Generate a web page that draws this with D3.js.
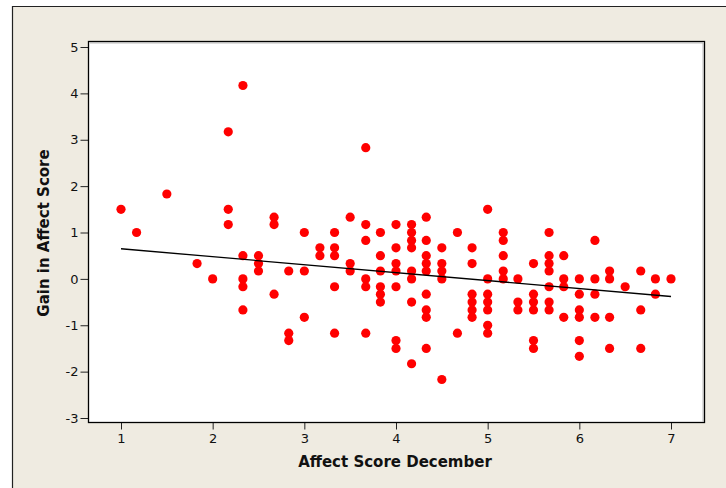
<!DOCTYPE html>
<html>
<head>
<meta charset="utf-8">
<script src="https://cdn.jsdelivr.net/npm/d3@7"></script>
<style>
  body { margin: 0; background: #fff; }
  svg { display: block; }
</style>
</head>
<body>
<svg id="chart" width="726" height="488"></svg>
<script>
var affectDecember = [
  1.0, 1.17, 1.5, 1.83, 2.0,
  2.17, 2.17, 2.17,
  2.33, 2.33, 2.33, 2.33, 2.33,
  2.5, 2.5, 2.5,
  2.67, 2.67, 2.67,
  2.83, 2.83, 2.83,
  3.0, 3.0, 3.0,
  3.17, 3.17,
  3.33, 3.33, 3.33, 3.33, 3.33,
  3.5, 3.5, 3.5,
  3.67, 3.67, 3.67, 3.67, 3.67, 3.67,
  3.83, 3.83, 3.83, 3.83, 3.83, 3.83,
  4.0, 4.0, 4.0, 4.0, 4.0, 4.0, 4.0,
  4.17, 4.17, 4.17, 4.17, 4.17, 4.17, 4.17, 4.17,
  4.33, 4.33, 4.33, 4.33, 4.33, 4.33, 4.33, 4.33, 4.33,
  4.5, 4.5, 4.5, 4.5, 4.5,
  4.67, 4.67,
  4.83, 4.83, 4.83, 4.83, 4.83, 4.83,
  5.0, 5.0, 5.0, 5.0, 5.0, 5.0, 5.0,
  5.17, 5.17, 5.17, 5.17, 5.17,
  5.33, 5.33, 5.33,
  5.5, 5.5, 5.5, 5.5, 5.5, 5.5,
  5.67, 5.67, 5.67, 5.67, 5.67, 5.67, 5.67,
  5.83, 5.83, 5.83, 5.83,
  6.0, 6.0, 6.0, 6.0, 6.0, 6.0,
  6.17, 6.17, 6.17, 6.17,
  6.33, 6.33, 6.33, 6.33,
  6.5,
  6.67, 6.67, 6.67,
  6.83, 6.83,
  7.0
];
var gainInAffect = [
  1.5, 1.0, 1.83, 0.33, 0,
  3.17, 1.5, 1.17,
  4.17, 0.5, 0, -0.17, -0.67,
  0.5, 0.33, 0.17,
  1.33, 1.17, -0.33,
  0.17, -1.17, -1.33,
  1.0, 0.17, -0.83,
  0.67, 0.5,
  1.0, 0.67, 0.5, -0.17, -1.17,
  1.33, 0.33, 0.17,
  2.83, 1.17, 0.83, 0, -0.17, -1.17,
  1.0, 0.5, 0.17, -0.17, -0.33, -0.5,
  1.17, 0.67, 0.33, 0.17, -0.17, -1.33, -1.5,
  1.17, 1.0, 0.83, 0.67, 0.17, 0, -0.5, -1.83,
  1.33, 0.83, 0.5, 0.33, 0.17, -0.33, -0.67, -0.83, -1.5,
  0.67, 0.33, 0.17, 0, -2.17,
  1.0, -1.17,
  0.67, 0.33, -0.33, -0.5, -0.67, -0.83,
  1.5, 0, -0.33, -0.5, -0.67, -1.0, -1.17,
  1.0, 0.83, 0.5, 0.17, 0,
  0, -0.5, -0.67,
  0.33, -0.33, -0.5, -0.67, -1.33, -1.5,
  1.0, 0.5, 0.33, 0.17, -0.17, -0.5, -0.67,
  0.5, 0, -0.17, -0.83,
  0, -0.33, -0.67, -0.83, -1.33, -1.67,
  0.83, 0, -0.33, -0.83,
  0.17, 0, -0.83, -1.5,
  -0.17,
  0.17, -0.67, -1.5,
  0, -0.33,
  0
];
// Fitted line as drawn in the picture (overlapping points hide some cases).
var fitX = [1, 7];
var fitY = [0.65, -0.38];
var xTicks = [1, 2, 3, 4, 5, 6, 7];
var yTicks = [-3, -2, -1, 0, 1, 2, 3, 4, 5];
var xTitle = 'Affect Score December';
var yTitle = 'Gain in Affect Score';

// Layout.
var BOX = {left: 88.5, top: 41.5, right: 704.5, bottom: 422.5};
var POINT_R = 4.6;
var FONT = 'Tahoma, "DejaVu Sans", sans-serif';

var svg = d3.select('#chart');

// Beige frame behind everything.
svg.append('rect')
  .attr('x', 12).attr('y', 6).attr('width', 726).attr('height', 500)
  .attr('fill', '#efebe1');
svg.append('path')
  .attr('d', 'M12.5,488V6.5H726')
  .attr('fill', 'none').attr('stroke', '#222').attr('stroke-width', 1.2);

var x = d3.scaleLinear().domain([1, 7]).range([121, 671]);
var y = d3.scaleLinear().domain([-3, 5]).range([418, 47]);

// Plot area.
svg.append('rect')
  .attr('x', BOX.left).attr('y', BOX.top)
  .attr('width', BOX.right - BOX.left).attr('height', BOX.bottom - BOX.top)
  .attr('fill', '#fff');
svg.append('path')
  .attr('d', 'M' + (BOX.left + 1.5) + ',' + (BOX.top + 1.5) + 'H' + (BOX.right - 1.5) + 'V' + (BOX.bottom - 1))
  .attr('fill', 'none').attr('stroke', '#bbb').attr('stroke-width', 1);

// Axes (plain hyphen for negatives, as in the original).
var xAxis = svg.append('g')
  .attr('transform', 'translate(0,' + BOX.bottom + ')')
  .call(d3.axisBottom(x).tickValues(xTicks).tickSize(7).tickPadding(4).tickFormat(String));
var yAxis = svg.append('g')
  .attr('transform', 'translate(' + BOX.left + ',0)')
  .call(d3.axisLeft(y).tickValues(yTicks).tickSize(8).tickPadding(2).tickFormat(String));
[xAxis, yAxis].forEach(function(g) {
  g.select('.domain').remove();
  g.selectAll('line').attr('stroke', '#222');
  g.selectAll('text')
    .attr('fill', '#111')
    .style('font-family', FONT)
    .style('font-size', '13px');
});

svg.append('rect')
  .attr('x', BOX.left).attr('y', BOX.top)
  .attr('width', BOX.right - BOX.left).attr('height', BOX.bottom - BOX.top)
  .attr('fill', 'none').attr('stroke', '#000').attr('stroke-width', 1.3);

// Points.
svg.append('g').selectAll('circle')
  .data(d3.range(affectDecember.length))
  .enter()
  .append('circle')
  .attr('cx', function(i) { return x(affectDecember[i]); })
  .attr('cy', function(i) { return y(gainInAffect[i]); })
  .attr('r', POINT_R)
  .attr('fill', '#ff0000');

// Fit line.
svg.append('line')
  .attr('x1', x(fitX[0])).attr('y1', y(fitY[0]))
  .attr('x2', x(fitX[1])).attr('y2', y(fitY[1]))
  .attr('stroke', '#000').attr('stroke-width', 1.3);

// Titles.
svg.append('text')
  .attr('x', 395).attr('y', 467)
  .attr('text-anchor', 'middle')
  .style('font-family', FONT).style('font-weight', 'bold').style('font-size', '15px')
  .attr('fill', '#111')
  .text(xTitle);
svg.append('text')
  .attr('transform', 'translate(49,233) rotate(-90)')
  .attr('text-anchor', 'middle')
  .style('font-family', FONT).style('font-weight', 'bold').style('font-size', '15px')
  .attr('fill', '#111')
  .text(yTitle);
</script>
</body>
</html>
